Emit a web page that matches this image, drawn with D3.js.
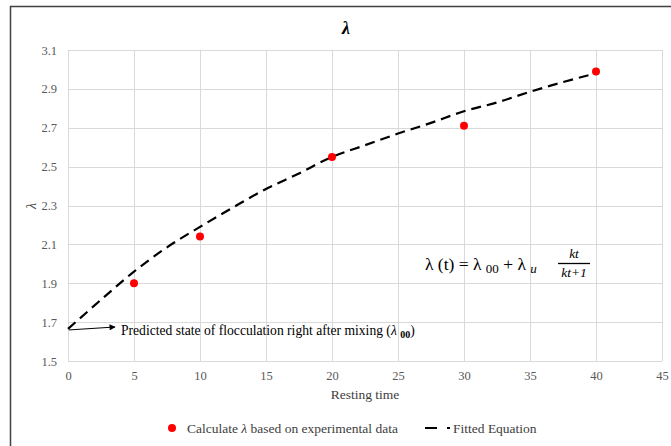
<!DOCTYPE html>
<html><head><meta charset="utf-8">
<script src="https://cdn.jsdelivr.net/npm/d3@7"></script>
<style>
body{margin:0;background:#fff;}
svg{display:block;font-family:"Liberation Serif","Times New Roman",serif;}
</style></head>
<body><svg id="c" width="671" height="446"></svg>
<script>
// ---- data ----
const expTimes = [5, 10, 20, 30, 40];
const expLambda = [1.90, 2.14, 2.55, 2.71, 2.99];
const fitTimes = [0, 2.5, 5, 7.5, 10, 12.5, 15, 17.5, 20, 22.5, 25, 27.5, 30, 32.5, 35, 37.5, 40];
const fitLambda = [1.665, 1.815, 1.96, 2.085, 2.19, 2.29, 2.385, 2.465, 2.55, 2.61, 2.67, 2.725, 2.785, 2.83, 2.885, 2.935, 2.98];
const xTicks = [0, 5, 10, 15, 20, 25, 30, 35, 40, 45];
const yTicks = [1.5, 1.7, 1.9, 2.1, 2.3, 2.5, 2.7, 2.9, 3.1];
const titleText = "λ";
const xLabel = "Resting time";
const yLabel = "λ";
const legendExp = ["Calculate ", "λ", " based on experimental data"];
const legendFit = "Fitted Equation";

const svg = d3.select("#c");
const L = 68, R = 662, T = 50, B = 361;
const x = d3.scaleLinear().domain([0, 45]).range([L, R]);
const y = d3.scaleLinear().domain([1.5, 3.1]).range([B, T]);

// outer frame (partial, cut by window)
svg.append("path").attr("d", "M10.5,446 L10.5,6.5 L671,6.5")
  .attr("fill", "none").attr("stroke", "#404040").attr("stroke-width", 1.5);

// gridlines
const grid = svg.append("g");
grid.selectAll("line.h").data(yTicks).join("line")
  .attr("x1", L).attr("x2", R).attr("y1", d => Math.round(y(d)) + 0.5).attr("y2", d => Math.round(y(d)) + 0.5)
  .attr("stroke", "#d9d9d9").attr("stroke-width", 1);
grid.selectAll("line.v").data(xTicks).join("line")
  .attr("y1", T).attr("y2", B).attr("x1", d => Math.round(x(d)) + 0.5).attr("x2", d => Math.round(x(d)) + 0.5)
  .attr("stroke", "#d9d9d9").attr("stroke-width", 1);

// axes labels via d3 axes
const xAxis = svg.append("g").attr("transform", `translate(0,${B})`)
  .call(d3.axisBottom(x).tickValues(xTicks).tickSize(0).tickPadding(10).tickFormat(d3.format("d")));
const yAxis = svg.append("g").attr("transform", `translate(${L},0)`)
  .call(d3.axisLeft(y).tickValues(yTicks).tickSize(0).tickPadding(11).tickFormat(d3.format(".1f")));
[xAxis, yAxis].forEach(a => {
  a.select(".domain").remove();
  a.selectAll("text").attr("font-family", "Liberation Serif").attr("font-size", 12.5).attr("fill", "#595959");
});

// title & axis titles
svg.append("text").attr("x", 346).attr("y", 34).attr("text-anchor", "middle")
  .attr("font-size", 18).attr("font-weight", "bold").attr("font-style", "italic").attr("fill", "#000").text(titleText);
svg.append("text").attr("x", 365).attr("y", 399).attr("text-anchor", "middle")
  .attr("font-size", 13.5).attr("fill", "#404040").text(xLabel);
svg.append("text").attr("transform", "translate(36,206) rotate(-90)").attr("text-anchor", "middle")
  .attr("font-size", 14).attr("font-style", "italic").attr("fill", "#404040").text(yLabel);

// fitted curve
const line = d3.line().x((d, i) => x(fitTimes[i])).y(d => y(d)).curve(d3.curveCatmullRom);
svg.append("path").datum(fitLambda).attr("d", line)
  .attr("fill", "none").attr("stroke", "#000").attr("stroke-width", 2.2)
  .attr("stroke-dasharray", "10,6");

// experimental points
svg.selectAll("circle.p").data(expLambda).join("circle")
  .attr("cx", (d, i) => x(expTimes[i])).attr("cy", d => y(d)).attr("r", 4)
  .attr("fill", "#ff0000");

// annotation arrow
const defs = svg.append("defs");
defs.append("marker").attr("id", "ah").attr("viewBox", "0 0 10 10").attr("refX", 9).attr("refY", 5)
  .attr("markerWidth", 7).attr("markerHeight", 6).attr("orient", "auto").attr("markerUnits", "userSpaceOnUse")
  .append("path").attr("d", "M0,0 L10,5 L0,10 z").attr("fill", "#000");
svg.append("line").attr("x1", x(0) + 1).attr("y1", y(fitLambda[0]) + 1).attr("x2", 115).attr("y2", 327)
  .attr("stroke", "#000").attr("stroke-width", 1).attr("marker-end", "url(#ah)");
const ann = svg.append("text").attr("x", 121).attr("y", 335).attr("font-size", 13.6).attr("fill", "#000");
ann.append("tspan").text("Predicted state of flocculation right after mixing (");
ann.append("tspan").attr("font-style", "italic").text("λ ");
ann.append("tspan").attr("font-size", 10).attr("font-weight", "bold").attr("dy", 3).text("00");
ann.append("tspan").attr("dy", -3).text(")");

// equation
const eq = svg.append("text").attr("x", 425).attr("y", 270).attr("font-size", 17.5).attr("fill", "#000");
eq.append("tspan").text("λ (t) = λ ");
eq.append("tspan").attr("font-size", 13).attr("dy", 3).text("00");
eq.append("tspan").attr("dy", -3).text(" + λ ");
eq.append("tspan").attr("font-size", 13).attr("font-style", "italic").attr("dy", 3).text("u");
svg.append("text").attr("x", 574).attr("y", 258).attr("text-anchor", "middle").attr("font-size", 13.5)
  .attr("font-style", "italic").text("kt");
svg.append("line").attr("x1", 558).attr("x2", 590).attr("y1", 263.5).attr("y2", 263.5).attr("stroke", "#000").attr("stroke-width", 1.3);
svg.append("text").attr("x", 574).attr("y", 277).attr("text-anchor", "middle").attr("font-size", 13.5)
  .attr("font-style", "italic").text("kt+1");

// legend
svg.append("circle").attr("cx", 172).attr("cy", 428).attr("r", 4).attr("fill", "#ff0000");
const lt = svg.append("text").attr("x", 187).attr("y", 432.5).attr("font-size", 13.5).attr("fill", "#404040");
lt.append("tspan").text(legendExp[0]);
lt.append("tspan").attr("font-style", "italic").text(legendExp[1]);
lt.append("tspan").text(legendExp[2]);
svg.append("line").attr("x1", 425).attr("x2", 450).attr("y1", 428).attr("y2", 428)
  .attr("stroke", "#000").attr("stroke-width", 2.2).attr("stroke-dasharray", "12,10");
svg.append("text").attr("x", 453).attr("y", 432.5).attr("font-size", 13.5).attr("fill", "#404040").text(legendFit);
</script></body></html>
